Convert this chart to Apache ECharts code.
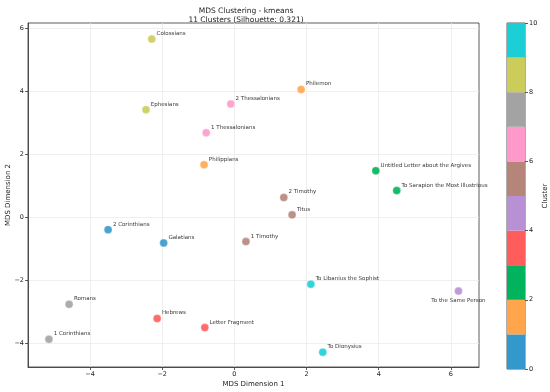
<!DOCTYPE html>
<html><head><meta charset="utf-8">
<script src="https://cdn.jsdelivr.net/npm/echarts@6/dist/echarts.min.js"></script>
<style>html,body{margin:0;padding:0;background:#fff}#c{width:550px;height:392px}</style>
</head><body><div id="c"></div>
<script>
const names = ["Colossians","Ephesians","2 Thessalonians","1 Thessalonians","Philippians","Philemon",
  "Untitled Letter about the Argives","To Sarapion the Most Illustrious","2 Timothy","Titus","1 Timothy",
  "2 Corinthians","Galatians","Romans","1 Corinthians","Hebrews","Letter Fragment",
  "To Libanius the Sophist","To Dionysius","To the Same Person"];
const xVals = [-2.29,-2.45,-0.10,-0.78,-0.84,1.85,3.92,4.50,1.37,1.60,0.32,-3.50,-1.96,-4.58,-5.14,-2.14,-0.82,2.12,2.45,6.21];
const yVals = [5.66,3.42,3.60,2.69,1.67,4.06,1.48,0.85,0.63,0.08,-0.77,-0.39,-0.81,-2.76,-3.87,-3.21,-3.50,-2.12,-4.28,-2.34];
const clusters = [8,8,6,6,1,1,2,2,5,5,5,0,0,7,7,3,3,9,9,4];
const clusterColors = ["#3399cc","#ffa64d","#00b35c","#ff5c5c","#b890d4","#b5857a","#ff99cc","#a3a3a3","#cccc5a","#1ccfd6"];
const xTicks = [-4,-2,0,2,4,6];
const yTicks = [-4,-2,0,2,4,6];
const cbTicks = [0,2,4,6,8,10];
const belowLabel = ["To the Same Person"];

const FONT = "DejaVu Sans";
const chart = echarts.init(document.getElementById('c'), null, {renderer:'canvas'});

const pts = names.map((n,i)=>{
  const item = {name:n, value:[xVals[i], yVals[i]], itemStyle:{color:clusterColors[clusters[i]]}};
  if (belowLabel.includes(n)) {
    item.label = {position:'bottom', distance:2, align:'center', verticalAlign:'top'};
  }
  return item;
});

const cbSeries = clusterColors.map((c,k)=>({
  type:'bar', xAxisIndex:1, yAxisIndex:1, stack:'cb', data:[1], barWidth:'100%',
  itemStyle:{color:c}, silent:true, animation:false
}));

const axisText = {fontFamily:FONT, fontSize:6.5, color:'#222'};

chart.setOption({
  animation:false,
  backgroundColor:'#fff',
  title:{
    text:'MDS Clustering - kmeans\n11 Clusters (Silhouette: 0.321)',
    left:241, top:2, textAlign:'center',
    textStyle:{fontFamily:FONT, fontSize:7.5, fontWeight:'normal', color:'#222', lineHeight:9}
  },
  grid:[
    {left:28, right:71, top:23, bottom:25, show:true, borderColor:'#333', borderWidth:0.8, backgroundColor:'transparent', containLabel:false, outerBoundsMode:'none'},
    {left:507, width:18, top:23, bottom:23, show:true, borderColor:'#333', borderWidth:0.8, backgroundColor:'transparent', containLabel:false, outerBoundsMode:'none'}
  ],
  xAxis:[
    {type:'value', gridIndex:0, min:-5.72, max:6.78,
     name:'MDS Dimension 1', nameLocation:'middle', nameGap:14, nameMoveOverlap:false,
     nameTextStyle:{fontFamily:FONT, fontSize:7, color:'#222'},
     axisLine:{show:true, onZero:false, lineStyle:{color:'#333', width:0.8}},
     axisTick:{show:true, inside:false, length:3, customValues:xTicks, lineStyle:{color:'#333', width:0.8}},
     axisLabel:Object.assign({margin:4, customValues:xTicks, formatter:v=>String(v).replace('-','\u2212')}, axisText),
     splitLine:{show:true, lineStyle:{color:'#ebebeb', width:0.8}}},
    {type:'category', gridIndex:1, data:['c'], show:false}
  ],
  yAxis:[
    {type:'value', gridIndex:0, min:-4.75, max:6.17,
     name:'MDS Dimension 2', nameLocation:'middle', nameGap:16, nameRotate:90, nameMoveOverlap:false,
     nameTextStyle:{fontFamily:FONT, fontSize:7, color:'#222'},
     axisLine:{show:true, onZero:false, lineStyle:{color:'#333', width:0.8}},
     axisTick:{show:true, inside:false, length:3, customValues:yTicks, lineStyle:{color:'#333', width:0.8}},
     axisLabel:Object.assign({margin:4, customValues:yTicks, formatter:v=>String(v).replace('-','\u2212')}, axisText),
     splitLine:{show:true, lineStyle:{color:'#ebebeb', width:0.8}}},
    {type:'value', gridIndex:1, min:0, max:10, interval:2, position:'right',
     name:'Cluster', nameLocation:'middle', nameGap:17, nameRotate:90, nameMoveOverlap:false,
     nameTextStyle:{fontFamily:FONT, fontSize:7, color:'#222'},
     axisLine:{show:false},
     axisTick:{show:true, inside:false, length:3, lineStyle:{color:'#333', width:0.8}},
     axisLabel:Object.assign({margin:4}, axisText),
     splitLine:{show:false}}
  ],
  series:[
    {type:'scatter', xAxisIndex:0, yAxisIndex:0, symbolSize:8, data:pts,
     itemStyle:{opacity:0.9, borderColor:'#fff', borderWidth:0.4},
     label:{show:true, formatter:p=>p.name, position:[9,-4.3], align:'left', verticalAlign:'top',
            fontFamily:FONT, fontSize:5.5, color:'#222'},
     labelLayout:{hideOverlap:false},
     z:3},
    ...cbSeries
  ]
});
</script>
</body></html>
